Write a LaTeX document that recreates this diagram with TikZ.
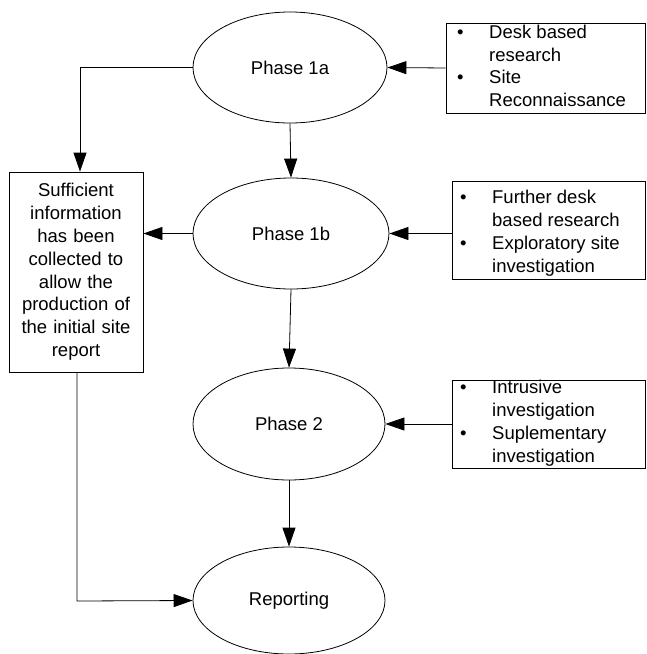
\documentclass[tikz,border=0pt]{standalone}
\usepackage{fontspec}
\setmainfont{Liberation Sans}
\usetikzlibrary{shapes.geometric,arrows.meta}
\tikzset{
  every node/.style={font=\fontsize{18.5}{22.8}\selectfont},
  phase/.style={ellipse, draw, line width=0.8pt, minimum width=194pt, minimum height=111pt, inner sep=0pt},
  rbox/.style={draw, line width=0.8pt, minimum width=199pt, inner sep=0pt},
  sbox/.style={draw, line width=0.8pt, minimum width=134pt, minimum height=200pt, text width=130pt, align=center, inner sep=0pt},
  conn/.style={line width=0.8pt, -{Triangle[length=19pt,width=13pt]}},
  plain/.style={line width=0.8pt}
}
\newcommand{\blist}[4]{%
  \begin{tabular}{@{}p{32pt}@{}l@{}}
  \textbullet & #1\\ & #2\\ \textbullet & #3\\ & #4
  \end{tabular}}
\begin{document}
\begin{tikzpicture}[x=1pt,y=-1pt]
\useasboundingbox (0,0) rectangle (646,654);
% ellipses
\node[phase] (p1a) at (290,67.5) {Phase 1a};
\node[phase, minimum width=196pt] (p1b) at (291,233.5) {Phase 1b};
\node[phase, minimum width=192pt, minimum height=112pt] (p2) at (289,424) {Phase 2};
\node[phase, minimum width=192pt, minimum height=107pt] (rep) at (289,600.5) {Reporting};
% right boxes
\node[rbox, minimum height=90pt] (b1) at (545.5,68) {};
\node[anchor=west, inner sep=0pt] (t1) at (457,68) {\blist{Desk based}{research}{Site}{Reconnaissance}};
\node[rbox, minimum width=193pt, minimum height=98pt] (b2) at (548.5,230) {};
\node[anchor=west, inner sep=0pt] (t2) at (460,233.5) {\blist{Further desk}{based research}{Exploratory site}{investigation}};
\node[rbox, minimum width=193pt, minimum height=88pt] (b3) at (548.5,424) {};
\node[anchor=west, inner sep=0pt] (t3) at (460,423.5) {\blist{Intrusive}{investigation}{Suplementary}{investigation}};
% left box
\node[sbox] (sb) at (76,272) {Sufficient\\information\\has been\\collected to\\allow the\\production of\\the initial site\\report};
% connectors
\coordinate (c1) at (80,67.5);
\coordinate (c2) at (77,601);
\draw[conn] (b1.west) -- (p1a.east);
\draw[conn] (p1a.south) -- (p1b.north);
\draw[conn] (p1a.west) -- (c1) -- (c1 |- sb.north);
\draw[conn] (p1b.west) -- (sb.east |- p1b.west);
\draw[conn] (b2.west |- p1b.east) -- (p1b.east);
\draw[conn] (p1b.south) -- (p2.north);
\draw[conn] (b3.west) -- (p2.east);
\draw[conn] (p2.south) -- (rep.north);
\draw[conn] (c2 |- sb.south) -- (c2) -- (rep.west);
\end{tikzpicture}
\end{document}
